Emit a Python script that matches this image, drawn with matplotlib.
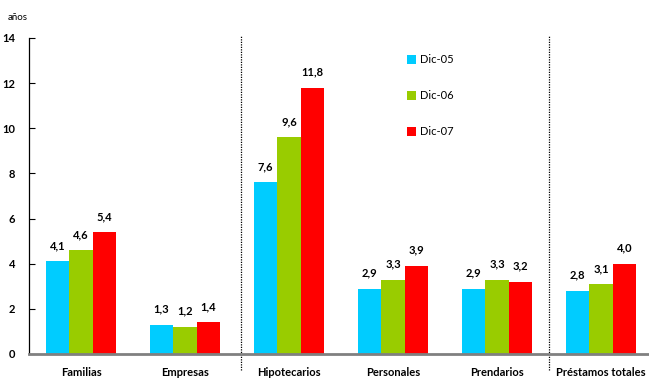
import numpy as np
import matplotlib.pyplot as plt

categorias = ["Familias", "Empresas", "Hipotecarios", "Personales", "Prendarios", "Préstamos totales"]
series = ["Dic-05", "Dic-06", "Dic-07"]
dic05 = [4.1, 1.3, 7.6, 2.9, 2.9, 2.8]
dic06 = [4.6, 1.2, 9.6, 3.3, 3.3, 3.1]
dic07 = [5.4, 1.4, 11.8, 3.9, 3.2, 4.0]
colores = ["#00ccff", "#99cc00", "#ff0000"]

plt.rcParams["font.family"] = ["Lato", "DejaVu Sans"]

fig = plt.figure(figsize=(6.49, 3.80), dpi=100)
ax = fig.add_axes([29 / 649, 26 / 380, 624 / 649, 316 / 380])

x = np.arange(len(categorias))
w = 0.225
for k, (vals, col, nom) in enumerate(zip([dic05, dic06, dic07], colores, series)):
    pos = x + (k - 1) * w
    ax.bar(pos, vals, width=w, color=col, label=nom, zorder=2)
    for px, v in zip(pos, vals):
        ax.text(px, v + 0.45, f"{v:.1f}".replace(".", ","), ha="center", va="bottom",
                fontsize=8, fontweight="bold")

ax.set_xlim(-0.5, 5.5)
ax.set_ylim(0, 14)
ax.set_yticks(range(0, 15, 2))
ax.set_yticklabels([str(t) for t in range(0, 15, 2)], fontsize=8, fontweight="bold")
ax.tick_params(axis="y", direction="in", length=4, width=0.8, pad=10)
ax.set_xticks(x)
ax.set_xticklabels(categorias, fontsize=8, fontweight="bold")
ax.tick_params(axis="x", length=0, pad=9)

for s in ["top", "right"]:
    ax.spines[s].set_visible(False)
ax.spines["left"].set_linewidth(0.9)
ax.spines["bottom"].set_color("#808080")
ax.spines["bottom"].set_linewidth(2)
ax.spines["bottom"].set_zorder(3)

# separadores punteados entre grupos
for xs in [1.54, 4.5]:
    ax.axvline(xs, ymin=-0.05, ymax=1.01, color="black", linestyle=(0, (1, 1)),
               linewidth=0.9, clip_on=False, zorder=1)

ax.legend(loc="upper left", bbox_to_anchor=(0.59, 0.98), frameon=False, fontsize=8,
          handlelength=0.8, handleheight=0.8, handletextpad=0.4, labelspacing=2.25)

fig.text(8 / 649, 1 - 17 / 380, "años", fontsize=7, va="center")

fig.savefig("out.png", dpi=100)
